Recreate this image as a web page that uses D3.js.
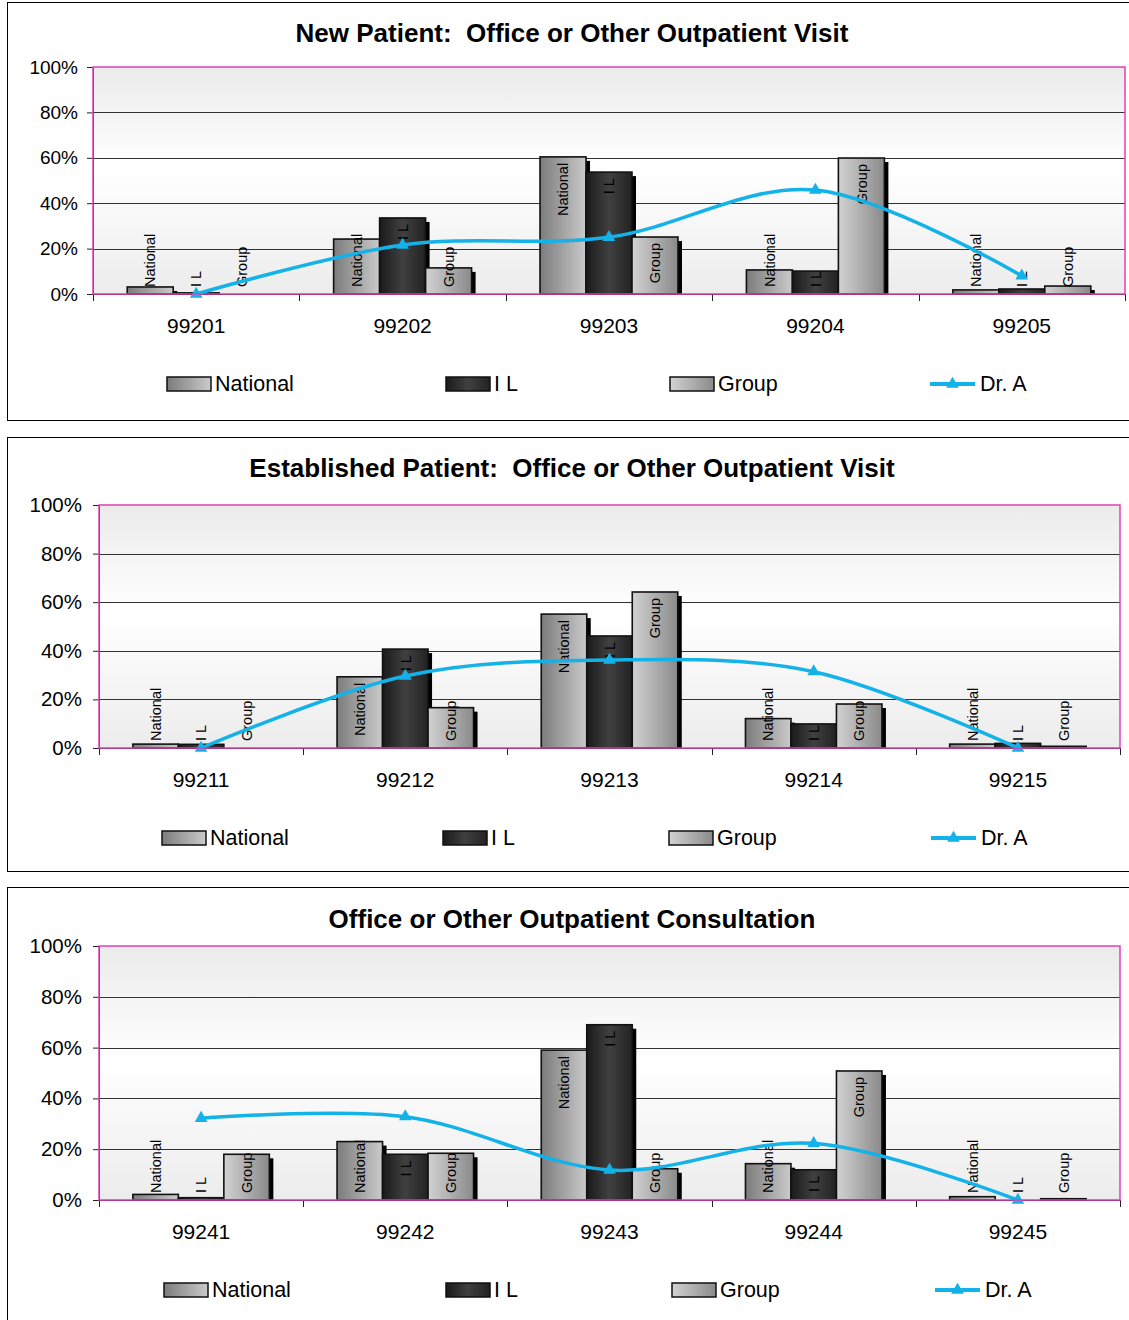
<!DOCTYPE html>
<html>
<head>
<meta charset="utf-8">
<script src="https://cdn.jsdelivr.net/npm/d3@7"></script>
<style>
  html, body { margin: 0; padding: 0; background: #fff; }
  svg text { font-family: Arial, "Liberation Sans", sans-serif; }
</style>
</head>
<body>
<svg id="chart" width="1129" height="1320"></svg>
<script>
// ---- data (percent of visits per CPT code) ----
const seriesNames = ["National", "I L", "Group"];
const lineName = "Dr. A";
const yTickValues = [0, 20, 40, 60, 80, 100];

const newTitle = "New Patient:  Office or Other Outpatient Visit";
const newCodes = ["99201", "99202", "99203", "99204", "99205"];
const newNational = [3.1, 24.2, 60.4, 10.6, 1.8];
const newIL = [0.5, 33.5, 53.7, 10.1, 2.2];
const newGroup = [0, 11.5, 25.1, 59.9, 3.5];
const newDrA = [0, 21.6, 25.0, 45.8, 8.0];

const estTitle = "Established Patient:  Office or Other Outpatient Visit";
const estCodes = ["99211", "99212", "99213", "99214", "99215"];
const estNational = [1.6, 29.3, 55.1, 12.1, 1.6];
const estIL = [1.5, 40.7, 46.1, 9.9, 1.9];
const estGroup = [0, 16.6, 64.2, 18.1, 0.7];
const estDrA = [0, 29.6, 36.2, 31.4, 0];

const conTitle = "Office or Other Outpatient Consultation";
const conCodes = ["99241", "99242", "99243", "99244", "99245"];
const conNational = [2.2, 23.0, 59.0, 14.3, 1.3];
const conIL = [0.9, 18.0, 69.0, 11.9, 0];
const conGroup = [18.0, 18.4, 12.3, 50.8, 0.5];
const conDrA = [32.2, 32.8, 11.8, 22.3, 0];

// ---- layout of the three panels ----
const panels = [
  { title: newTitle, codes: newCodes, series: [newNational, newIL, newGroup], line: newDrA,
    box: [7, 2, 1140, 420], plot: [93, 67, 1125, 294], titleY: 33, yLabelX: 78, yFont: 19,
    catY: 325, legendY: 384, legendX: [167, 446, 670, 930] },
  { title: estTitle, codes: estCodes, series: [estNational, estIL, estGroup], line: estDrA,
    box: [7, 437, 1140, 871], plot: [99, 505, 1120, 748], titleY: 468, yLabelX: 82, yFont: 20.5,
    catY: 779, legendY: 838, legendX: [162, 443, 669, 931] },
  { title: conTitle, codes: conCodes, series: [conNational, conIL, conGroup], line: conDrA,
    box: [7, 887, 1140, 1340], plot: [99, 946, 1120, 1200], titleY: 919, yLabelX: 82, yFont: 20.5,
    catY: 1231, legendY: 1290, legendX: [164, 446, 672, 935] }
];

const svg = d3.select("#chart");
const defs = svg.append("defs");

// horizontal gradients for the three column series
function hGrad(id, stops) {
  const g = defs.append("linearGradient").attr("id", id)
    .attr("x1", "0%").attr("x2", "100%").attr("y1", "0%").attr("y2", "0%");
  stops.forEach(s => g.append("stop").attr("offset", s[0]).attr("stop-color", s[1]));
}
hGrad("g-national", [["0%", "#7c7c7c"], ["100%", "#cacaca"]]);
hGrad("g-il", [["0%", "#1a1a1a"], ["50%", "#404040"], ["100%", "#222222"]]);
hGrad("g-group", [["0%", "#d2d2d2"], ["100%", "#8a8a8a"]]);
const fills = ["url(#g-national)", "url(#g-il)", "url(#g-group)"];

// vertical gradient for the plot area
const bg = defs.append("linearGradient").attr("id", "g-plot")
  .attr("x1", "0%").attr("x2", "0%").attr("y1", "0%").attr("y2", "100%");
[["0%", "#ebebeb"], ["45%", "#ffffff"], ["100%", "#ececec"]]
  .forEach(s => bg.append("stop").attr("offset", s[0]).attr("stop-color", s[1]));

const lineColor = "#13b2e8";
const tri = d3.symbol().type(d3.symbolTriangle).size(70);

panels.forEach(p => {
  const [px0, py0, px1, py1] = p.plot;
  const g = svg.append("g");

  // outer frame
  g.append("rect")
    .attr("x", p.box[0] + 0.5).attr("y", p.box[1] + 0.5)
    .attr("width", p.box[2] - p.box[0]).attr("height", p.box[3] - p.box[1])
    .attr("fill", "#fff").attr("stroke", "#000").attr("stroke-width", 1);

  // title
  g.append("text")
    .attr("x", 572).attr("y", p.titleY)
    .attr("text-anchor", "middle").attr("dominant-baseline", "central")
    .style("white-space", "pre")
    .attr("font-size", 26).attr("font-weight", "bold")
    .text(p.title);

  const x = d3.scaleBand().domain(p.codes).range([px0, px1]).padding(0);
  const xs = d3.scaleBand().domain(seriesNames).range([0, x.bandwidth()])
    .paddingInner(0).paddingOuter(0.744);
  const y = d3.scaleLinear().domain([0, 100]).range([py1, py0]);

  // plot background
  g.append("rect")
    .attr("x", px0).attr("y", py0).attr("width", px1 - px0).attr("height", py1 - py0)
    .attr("fill", "url(#g-plot)");

  // gridlines
  g.append("g").selectAll("line")
    .data(yTickValues.filter(v => v > 0 && v < 100))
    .join("line")
    .attr("x1", px0).attr("x2", px1)
    .attr("y1", d => Math.round(y(d)) + 0.5).attr("y2", d => Math.round(y(d)) + 0.5)
    .attr("stroke", "#333").attr("stroke-width", 1);

  // y axis
  const yAxis = g.append("g")
    .attr("transform", `translate(${px0},0)`)
    .call(d3.axisLeft(y).tickValues(yTickValues).tickFormat(d => d + "%")
      .tickSize(6).tickPadding(px0 - p.yLabelX - 6));
  yAxis.select(".domain").attr("stroke", "#222");
  yAxis.selectAll(".tick line").attr("stroke", "#222");
  yAxis.selectAll("text").attr("font-size", p.yFont).attr("fill", "#000")
    .attr("font-family", "Arial, 'Liberation Sans', sans-serif");

  // x axis with ticks on the band boundaries
  const xAxis = g.append("g").attr("transform", `translate(0,${py1})`);
  xAxis.append("line").attr("x1", px0).attr("x2", px1).attr("y1", 0.5).attr("y2", 0.5)
    .attr("stroke", "#222");
  const bounds = p.codes.map(c => x(c)).concat([px1]);
  xAxis.selectAll("line.tk").data(bounds).join("line").attr("class", "tk")
    .attr("x1", d => Math.round(d) + 0.5).attr("x2", d => Math.round(d) + 0.5)
    .attr("y1", 0).attr("y2", 7).attr("stroke", "#222");
  xAxis.selectAll("text").data(p.codes).join("text")
    .attr("x", d => x(d) + x.bandwidth() / 2)
    .attr("y", p.catY - py1)
    .attr("text-anchor", "middle").attr("dominant-baseline", "central")
    .attr("font-size", 21).text(d => d);

  // columns: shadow then body
  const rows = [];
  p.codes.forEach((c, i) => seriesNames.forEach((s, k) => {
    rows.push({ code: c, name: s, k: k, v: p.series[k][i] });
  }));
  const bars = g.append("g");
  rows.forEach(d => {
    if (d.v <= 0) return;
    const bx = x(d.code) + xs(d.name);
    const by = y(d.v);
    bars.append("rect")
      .attr("x", bx + 4).attr("y", Math.min(by + 4, py1)).attr("width", xs.bandwidth())
      .attr("height", Math.max(0, py1 - by - 4)).attr("fill", "#000");
  });
  rows.forEach(d => {
    if (d.v <= 0) return;
    const bx = x(d.code) + xs(d.name);
    const by = y(d.v);
    bars.append("rect")
      .attr("x", bx).attr("y", by).attr("width", xs.bandwidth())
      .attr("height", py1 - by)
      .attr("fill", fills[d.k]).attr("stroke", "#111").attr("stroke-width", 1.6);
  });

  // rotated series labels at the inside end of each column
  const lab = g.append("g");
  rows.forEach(d => {
    const cx = x(d.code) + xs(d.name) + xs.bandwidth() / 2;
    const t = lab.append("text")
      .attr("font-size", 14.5).attr("fill", "#000")
      .attr("text-anchor", "end").attr("dy", "0.36em")
      .style("white-space", "pre")
      .text(d.name);
    const len = t.node().getComputedTextLength();
    let top = y(d.v) + 6;
    if (top + len > py1 - 7) top = py1 - 7 - len;
    t.attr("transform", `translate(${cx},${top}) rotate(-90)`);
  });

  // Dr. A smoothed line with triangle markers
  const pts = p.codes.map((c, i) => [x(c) + x.bandwidth() / 2, y(p.line[i])]);
  g.append("path")
    .attr("d", d3.line().curve(d3.curveCatmullRom.alpha(0))(pts))
    .attr("fill", "none").attr("stroke", lineColor).attr("stroke-width", 3.5);
  g.append("g").selectAll("path").data(pts).join("path")
    .attr("d", tri).attr("transform", d => `translate(${d[0]},${d[1]})`)
    .attr("fill", lineColor);

  // plot border
  g.append("rect")
    .attr("x", px0).attr("y", py0).attr("width", px1 - px0).attr("height", py1 - py0)
    .attr("fill", "none").attr("stroke", "#e040b8").attr("stroke-width", 1.5);

  // legend
  const lg = g.append("g");
  seriesNames.forEach((s, k) => {
    const lx = p.legendX[k];
    lg.append("rect").attr("x", lx).attr("y", p.legendY - 7).attr("width", 44).attr("height", 14)
      .attr("fill", fills[k]).attr("stroke", "#111").attr("stroke-width", 1.5);
    lg.append("text").attr("x", lx + 48).attr("y", p.legendY)
      .attr("dominant-baseline", "central").attr("font-size", 21.5)
      .style("white-space", "pre").text(s);
  });
  const lx = p.legendX[3];
  lg.append("line").attr("x1", lx).attr("x2", lx + 45)
    .attr("y1", p.legendY).attr("y2", p.legendY)
    .attr("stroke", lineColor).attr("stroke-width", 4);
  lg.append("path").attr("d", tri).attr("transform", `translate(${lx + 22.5},${p.legendY})`)
    .attr("fill", lineColor);
  lg.append("text").attr("x", lx + 50).attr("y", p.legendY)
    .attr("dominant-baseline", "central").attr("font-size", 21.5).text(lineName);
});
</script>
</body>
</html>
